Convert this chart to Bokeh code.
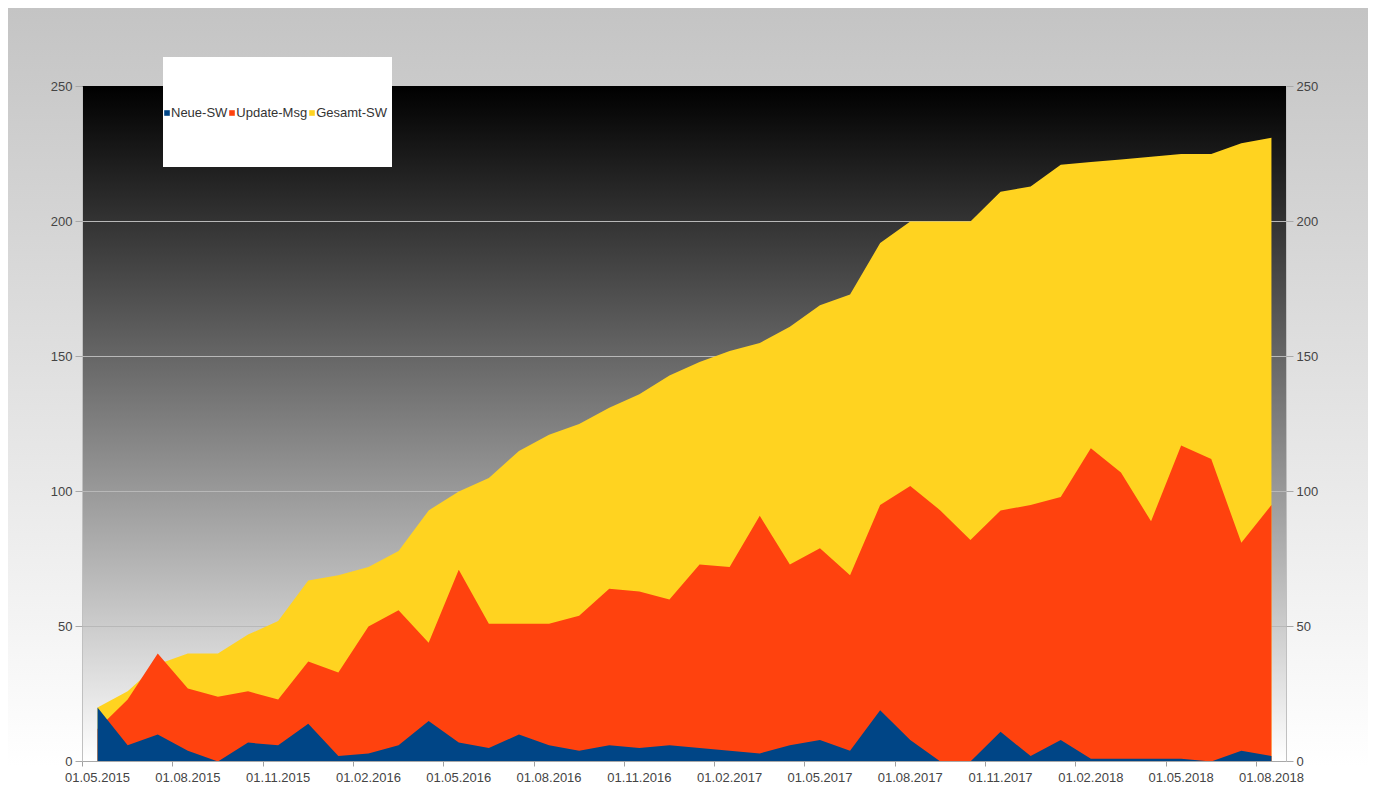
from bokeh.plotting import figure
from bokeh.models import (Range1d, LinearAxis, FixedTicker, Legend, InlineStyleSheet,
                          ColumnDataSource)
from bokeh.embed import file_html
from bokeh.resources import INLINE

# ---- data ----
months = list(range(40))  # 01.05.2015 ... 01.08.2018, monthly
neue_sw = [20, 6, 10, 4, 0, 7, 6, 14, 2, 3, 6, 15, 7, 5, 10, 6, 4, 6, 5, 6,
           5, 4, 3, 6, 8, 4, 19, 8, 0, 0, 11, 2, 8, 1, 1, 1, 1, 0, 4, 2]
update_msg = [12, 23, 40, 27, 24, 26, 23, 37, 33, 50, 56, 44, 71, 51, 51, 51, 54, 64, 63, 60,
              73, 72, 91, 73, 79, 69, 95, 102, 93, 82, 93, 95, 98, 116, 107, 89, 117, 112, 81, 95]
gesamt_sw = [20, 26, 36, 40, 40, 47, 52, 67, 69, 72, 78, 93, 100, 105, 115, 121, 125, 131, 136, 143,
             148, 152, 155, 161, 169, 173, 192, 200, 200, 200, 211, 213, 221, 222, 223, 224, 225, 225, 229, 231]
tick_pos = list(range(0, 40, 3))
tick_labels = ["01.05.2015", "01.08.2015", "01.11.2015", "01.02.2016", "01.05.2016",
               "01.08.2016", "01.11.2016", "01.02.2017", "01.05.2017", "01.08.2017",
               "01.11.2017", "01.02.2018", "01.05.2018", "01.08.2018"]
y_ticks = [0, 50, 100, 150, 200, 250]

src = ColumnDataSource(dict(x=months, neue=neue_sw, upd=update_msg, ges=gesamt_sw))

FONT = "Liberation Sans"
LBL = "#444444"

css = InlineStyleSheet(css="""
:host {
  background:
    linear-gradient(#ffffff, #ffffff) 163px 57px / 229px 110px no-repeat,
    linear-gradient(to bottom, #000000, #ffffff) 82px 86px / 1204px 675px no-repeat,
    linear-gradient(to bottom, #c4c4c4, #ffffff 96%) 8px 8px / 1360px 790px no-repeat;
}
""")

p = figure(frame_width=1204, frame_height=675,
           min_border_left=82, min_border_right=82, min_border_top=86, min_border_bottom=37,
           x_range=Range1d(-0.5, 39.5), y_range=Range1d(0, 250),
           output_backend="svg", toolbar_location=None, tools="")
p.stylesheets = [css]
p.border_fill_alpha = 0
p.background_fill_alpha = 0
p.outline_line_color = None

r_ges = p.varea(x="x", y1=0, y2="ges", source=src, fill_color="#ffd320")
r_upd = p.varea(x="x", y1=0, y2="upd", source=src, fill_color="#ff420e")
r_neu = p.varea(x="x", y1=0, y2="neue", source=src, fill_color="#004586")

# x axis
xa = p.xaxis[0]
xa.ticker = FixedTicker(ticks=tick_pos, minor_ticks=[t - 0.5 for t in tick_pos])
xa.major_label_overrides = {t: l for t, l in zip(tick_pos, tick_labels)}
xa.major_tick_out = 0
xa.major_tick_in = 0
xa.minor_tick_out = 5
xa.minor_tick_in = 0
xa.minor_tick_line_color = "#a0a0a0"
xa.axis_line_color = "#a8a8a8"
xa.major_label_standoff = 6
xa.major_label_text_font = FONT
xa.major_label_text_font_size = "13px"
xa.major_label_text_color = LBL

# y axes
ya = p.yaxis[0]
ra = LinearAxis()
p.add_layout(ra, "right")
for ax in (ya, ra):
    ax.ticker = FixedTicker(ticks=y_ticks)
    ax.major_tick_out = 7
    ax.major_tick_in = 0
    ax.minor_tick_line_color = None
    ax.major_tick_line_color = "#a8a8a8"
    ax.axis_line_color = "#c0c0c0"
    ax.major_label_standoff = 3
    ax.major_label_text_font = FONT
    ax.major_label_text_font_size = "13px"
    ax.major_label_text_color = LBL

p.xgrid.visible = False
p.ygrid.ticker = FixedTicker(ticks=[50, 100, 150, 200])
p.ygrid.grid_line_color = "#b8b8b8"
p.ygrid.grid_line_width = 1

legend = Legend(items=[("Neue-SW", [r_neu]), ("Update-Msg", [r_upd]), ("Gesamt-SW", [r_ges])],
                location=(81, 641), orientation="horizontal",
                background_fill_alpha=0, border_line_alpha=0,
                padding=0, margin=0, spacing=1,
                glyph_width=7, glyph_height=7, label_standoff=1, label_height=14,
                label_text_font=FONT, label_text_font_size="13px", label_text_color="#333333")
p.add_layout(legend)

open("out.html", "w").write(file_html(p, INLINE))
